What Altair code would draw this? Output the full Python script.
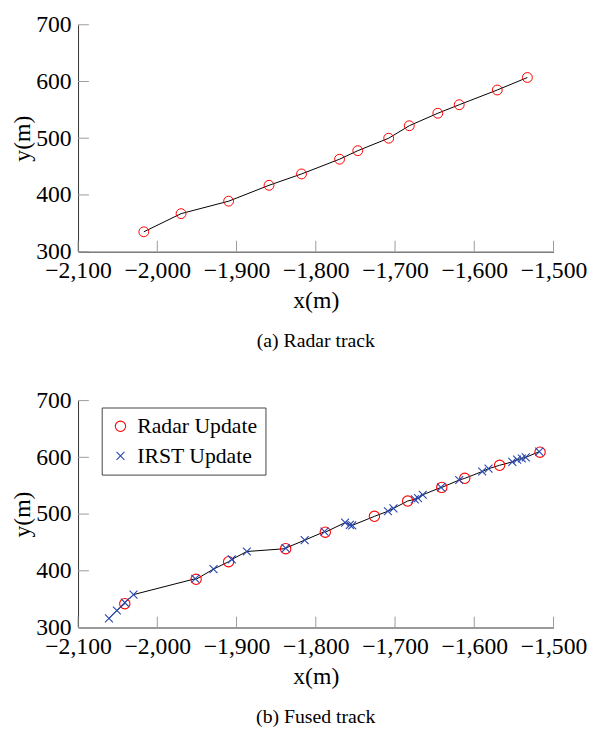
import altair as alt
import pandas as pd

# ---- data ----
radar_a_x = [-2017, -1970, -1910, -1859, -1818, -1770, -1747, -1708, -1682, -1646, -1619, -1571, -1533]
radar_a_y = [335, 367, 389, 417, 437, 463, 478, 500, 522, 544, 559, 585, 607]

radar_b_x = [-2041, -1951, -1910, -1838, -1788, -1726, -1684, -1641, -1612, -1568, -1517]
radar_b_y = [342, 385, 416, 439, 468, 496, 523, 547, 563, 586, 609]

irst_x = [-2061, -2051, -2041, -2030, -1952, -1929, -1906, -1887, -1838, -1814, -1789,
          -1763, -1757, -1754, -1709, -1702, -1675, -1671, -1665, -1642, -1619, -1590,
          -1582, -1552, -1546, -1540, -1535, -1518]
irst_y = [316, 330, 344, 358, 386, 403, 420, 434, 440, 454, 469,
          485, 481, 480, 505, 510, 526, 528, 534, 547, 560, 575,
          580, 592, 596, 598, 600, 610]

x_ticks = [-2100, -2000, -1900, -1800, -1700, -1600, -1500]
y_ticks = [300, 400, 500, 600, 700]

FONT = "Liberation Serif"
W, H = 482, 230
RED = "#ff0000"
BLUE = "#2646b0"

xscale = alt.Scale(domain=[-2100, -1500], nice=False, zero=False)
yscale = alt.Scale(domain=[300, 700], nice=False, zero=False)

xaxis = alt.Axis(values=x_ticks, format=",d", ticks=False, tickSize=0, grid=False,
                 labelPadding=7, titlePadding=7, title="x(m)", labelFlush=False,
                 labelOverlap=False)
yaxis = alt.Axis(values=y_ticks, format="d", ticks=False, tickSize=0, grid=False,
                 labelPadding=7, titlePadding=1, title="y(m)", labelFlush=False,
                 labelOverlap=False)


def X():
    return alt.X("x:Q", scale=xscale, axis=xaxis)


def Y():
    return alt.Y("y:Q", scale=yscale, axis=yaxis)


def tick_layers():
    yt = alt.Chart(pd.DataFrame({"y": y_ticks})).mark_rule(color="#9a9a9a", strokeWidth=1).encode(
        y=Y(), x=alt.value(0), x2=alt.value(11))
    xt = alt.Chart(pd.DataFrame({"x": x_ticks})).mark_rule(color="#9a9a9a", strokeWidth=1).encode(
        x=X(), y=alt.value(H), y2=alt.value(H - 11))
    return [yt, xt]


# ---- (a) radar track ----
df_a = pd.DataFrame({"x": radar_a_x, "y": radar_a_y})
line_a = alt.Chart(df_a).mark_line(color="black", strokeWidth=1).encode(x=X(), y=Y())
pts_a = alt.Chart(df_a).mark_point(shape="circle", filled=False, color=RED, size=100,
                                   strokeWidth=1, opacity=1).encode(x=X(), y=Y())
chart_a = alt.layer(*tick_layers(), line_a, pts_a).properties(
    width=W, height=H,
    title=alt.TitleParams(text="(a) Radar track", orient="bottom", anchor="middle",
                          font=FONT, fontSize=20, fontWeight="normal", color="black", offset=19))

# ---- (b) fused track ----
df_r = pd.DataFrame({"x": radar_b_x, "y": radar_b_y, "type": "Radar Update"})
df_i = pd.DataFrame({"x": irst_x, "y": irst_y, "type": "IRST Update"})
df_b = pd.concat([df_r, df_i], ignore_index=True)

line_b = alt.Chart(df_b).mark_line(color="black", strokeWidth=1).encode(x=X(), y=Y())

types = ["Radar Update", "IRST Update"]
leg = alt.Legend(title=None, orient="none", legendX=24, legendY=7,
                 strokeColor="#444", fillColor="white", padding=8, rowPadding=8,
                 labelFont=FONT, labelFontSize=22, labelColor="black", labelOffset=6,
                 symbolSize=100, symbolStrokeWidth=1.1, cornerRadius=0)
pts_b = alt.Chart(df_b).mark_point(filled=False, strokeWidth=1.1, opacity=1).encode(
    x=X(), y=Y(),
    color=alt.Color("type:N", scale=alt.Scale(domain=types, range=[RED, BLUE]), legend=leg),
    shape=alt.Shape("type:N", scale=alt.Scale(domain=types, range=["circle", "M-1,-1L1,1M-1,1L1,-1"]),
                    legend=leg),
    size=alt.Size("type:N", scale=alt.Scale(domain=types, range=[110, 64]), legend=None),
)
chart_b = alt.layer(*tick_layers(), line_b, pts_b).properties(
    width=W, height=H,
    title=alt.TitleParams(text="(b) Fused track", orient="bottom", anchor="middle",
                          font=FONT, fontSize=20, fontWeight="normal", color="black", offset=19))

chart = alt.vconcat(chart_a, chart_b, spacing=38).resolve_scale(
    color="independent", shape="independent", size="independent"
).resolve_legend(color="independent", shape="independent", size="independent"
).properties(
    padding={"left": 3, "top": 0, "right": 5, "bottom": 5}
).configure_view(stroke=None).configure_axis(
    labelFont=FONT, titleFont=FONT, labelFontSize=24, titleFontSize=24,
    labelColor="black", titleColor="black", titleFontWeight="normal",
    domainColor="#333", domainWidth=1,
)

chart.save("out.html", embed_options={"renderer": "svg", "actions": False})
